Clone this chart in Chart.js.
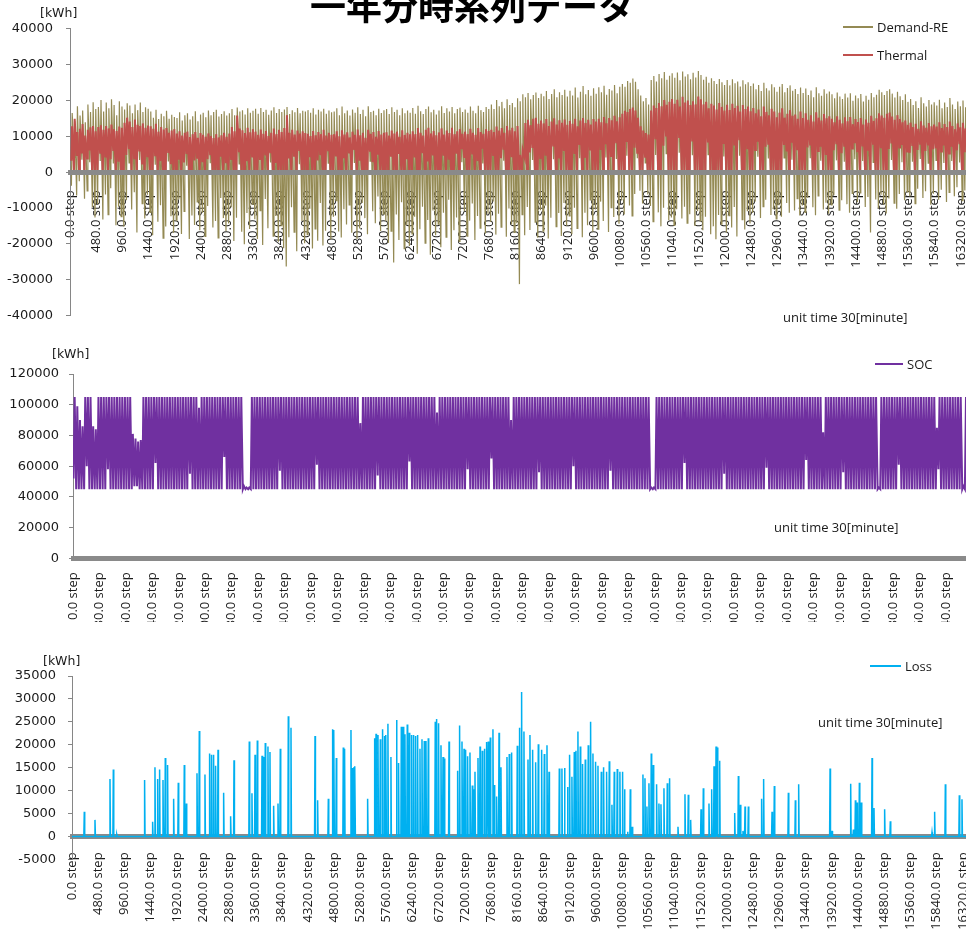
<!DOCTYPE html>
<html lang="ja">
<head>
<meta charset="utf-8">
<title>一年分時系列データ</title>
<script src="https://cdn.jsdelivr.net/npm/chart.js@4.4.1/dist/chart.umd.min.js"></script>
<style>
  html, body { margin: 0; padding: 0; background: #fff; }
  body { width: 966px; height: 930px; overflow: hidden; position: relative; color: #1a1a1a; font-family: "Open Sans", sans-serif; }
  .panel { position: absolute; left: 0; overflow: hidden; }
  .panel canvas { position: absolute; left: 0; top: 0; }
  .txt { position: absolute; white-space: nowrap; font-size: 13px; line-height: 16px; z-index: 2; }
  .unit { font-family: "DejaVu Sans", sans-serif; font-size: 12.5px; }
  .key { position: absolute; height: 2px; z-index: 2; }
  #title { position: absolute; left: 0; width: 944px; top: -14px; text-align: center; font: bold 36px/36px "Noto Sans CJK JP", sans-serif; color: #000; z-index: 2; }
</style>
</head>
<body>
<div id="title">一年分時系列データ</div>

<div class="panel" id="p1" style="top:0; width:1040px; height:330px;"><canvas id="c1" width="1040" height="330"></canvas></div>
<div class="panel" id="p2" style="top:335px; width:1050px; height:287px;"><canvas id="c2" width="1050" height="300"></canvas></div>
<div class="panel" id="p3" style="top:640px; width:1040px; height:290px;"><canvas id="c3" width="1040" height="290"></canvas></div>

<div class="txt unit" style="left:40px; top:5px;">[kWh]</div>
<div class="txt unit" style="left:52px; top:346px;">[kWh]</div>
<div class="txt unit" style="left:43px; top:653px;">[kWh]</div>

<div class="key" style="left:843px; top:26px; width:30px; background:#948A54;"></div>
<div class="txt" style="left:877px; top:19px;">Demand-RE</div>
<div class="key" style="left:843px; top:54px; width:30px; background:#C0504D;"></div>
<div class="txt" style="left:877px; top:47px;">Thermal</div>
<div class="txt" style="left:783px; top:309px;">unit time 30[minute]</div>

<div class="key" style="left:875px; top:363px; width:28px; background:#7030A0;"></div>
<div class="txt" style="left:907px; top:356px;">SOC</div>
<div class="txt" style="left:774px; top:519px;">unit time 30[minute]</div>

<div class="key" style="left:870px; top:665px; width:31px; background:#00B0F0;"></div>
<div class="txt" style="left:905px; top:658px;">Loss</div>
<div class="txt" style="left:818px; top:714px;">unit time 30[minute]</div>

<script>
// One step = 30 minutes, one day = 48 steps; values in kWh.
const STEPS_PER_DAY = 48;
const TOTAL_STEPS = 17520;
const TICK_STEP = 480;

// Daily peak and trough of (demand - renewable output)
const demandHigh = [
  16500, 14200, 18400, 15800, 17200, 13900, 18900, 16800, 19500, 17600,
  18200, 20100, 16900, 19400, 17800, 20300, 18700, 15900, 19800, 18300,
  17500, 19200, 18600, 16400, 18900, 17300, 19400, 16800, 18100, 17700,
  16900, 15200, 17400, 14800, 16300, 15600, 17100, 14900, 16000, 15400,
  15100, 16700, 14400, 15900, 16400, 14700, 15600, 17000, 14200, 16100,
  16600, 15300, 17200, 15900, 16800, 17400, 15500, 16200, 17000, 15800,
  16400, 17600, 15900, 18000, 16900, 17300, 16100, 17800, 16600, 17100,
  17700, 16300, 17900, 16800, 17400, 16000, 17200, 18100, 16500, 17600,
  16800, 17500, 18200, 16200, 17300, 16700, 17900, 16400, 17100, 16900,
  17300, 16600, 17800, 16100, 17400, 16900, 17700, 16300, 17200, 16700,
  16900, 17800, 15900, 18300, 16400, 17200, 15800, 17500, 16600, 18100,
  16200, 17400, 15600, 18400, 16800, 17100, 15900, 17700, 16500, 17300,
  17600, 16200, 18100, 16800, 17400, 15900, 17800, 16400, 17200, 16600,
  17900, 16300, 18500, 17000, 16200, 17600, 18300, 16700, 17400, 16100,
  17200, 18400, 16500, 17800, 16900, 18200, 16400, 17600, 18000, 16800,
  17500, 16600, 18300, 17100, 16400, 18500, 17300, 16800, 18200, 17600,
  18900, 17600, 20100, 18400, 19600, 17800, 20300, 18700, 19300, 18100,
  20600, 19800, 21700, 20900, 22100, 20300, 21500, 22200, 20700, 21900,
  21200, 22600, 20400, 21800, 23100, 20900, 22300, 21500, 23000, 21100,
  22700, 21400, 23600, 20800, 22400, 24000, 21700, 22900, 21300, 23400,
  21900, 23700, 22300, 24100, 21600, 23200, 22800, 24300, 22000, 23800,
  24600, 23800, 25400, 24900, 26100, 25200, 23100, 21400, 19800, 20700,
  18900, 25700, 26800, 25300, 27400, 26200, 27900, 25800, 26900, 27600,
  26300, 27800, 25600, 28100, 26700, 27300, 25900, 27700, 26400, 28200,
  27100, 25800, 26600, 24900, 26200, 25400, 24600, 26000, 25100, 24300,
  25700, 24200, 25900, 24800, 25300, 23900, 25600, 24500, 25100, 24000,
  24700, 23100, 24300, 22600, 24900, 23400, 22800, 24500, 23700, 22400,
  23800, 24600, 22300, 23500, 24200, 22700, 23200, 21800, 23600, 22100,
  23300, 21500, 22800, 20900, 23700, 22000, 21300, 23100, 21900, 22500,
  21700, 20600, 22200, 21100, 20400, 21900, 20800, 22000, 19900, 21400,
  20600, 21800, 19700, 21300, 20200, 22100, 20900, 21600, 23000, 22300,
  21500, 22600, 23100, 21900, 20800, 22400, 21200, 20100, 21700, 19600,
  20400, 18700, 19800, 17900, 20900, 19200, 18300, 20100, 18900, 19500,
  18600, 20200, 17800, 19400, 18200, 20700, 18900, 17600, 19700, 18400, 20000, 18100, 19300, 17900
];
const demandLow = [
  -3800, 4200, -6500, -2500, 3500, -7400, -5200, 2800, -9800, -12600,
  -8900, 3100, -13200, -6200, -11800, -4500, 2400, -14800, -9600, -12400,
  -15200, -7800, 2600, -10400, -5600, -16800, 3400, -8800, -12900, -6300,
  -11200, -17600, 2100, -13800, -9200, -18400, -15100, 3000, -12300, -16900,
  -13400, -7600, -17200, -10900, 1800, -18600, -12100, -14700, -8300, -16200,
  -11300, -17900, -9400, 2500, -15400, -13600, -18300, -7200, -12800, -16400,
  -14300, -9800, -19200, -12700, 2300, -16600, -20100, -11400, -15800, -8900,
  -13100, -18600, -10700, -20300, -7500, -15600, 2700, -17800, -12200, -19400,
  -14900, -21200, -26300, -18100, -9800, -16700, -22000, 2200, -13600, -19800,
  -17400, -10200, -21300, -15800, -19100, -8600, -20400, -16300, 2500, -18700,
  -12400, -7900, -16500, -18200, -10300, -14600, -9100, -16900, 2600, -18600,
  -15700, -8600, -12800, -17300, 3100, -10900, -14200, -6800, -16400, -11700,
  -13600, -19700, -16400, -25200, -11800, -18900, -8400, -21300, -14700, -20600,
  -17200, -12400, -22700, -15900, -9600, -19800, -13300, -23000, -10700, -17600,
  -14500, -20900, -11300, -18100, -7700, -21700, -16200, -12600, -19300, 2800,
  -10900, -17800, -13500, -8700, -18900, -12200, -15600, 2400, -17100, -11600,
  -13900, -8200, -17400, -11600, -15300, 3200, -18000, -10100, -14600, -16800,
  -14200, -31200, -11800, -17600, -9700, -16100, 3400, -13900, -18300, -10600,
  -16400, -9300, -18500, -12700, 3600, -15200, -11400, -17800, -8600, -14900,
  -12200, -17300, -9900, -15700, 3900, -18100, -11300, -14800, -7700, -16600,
  -10400, -15900, -8200, -13600, 4100, -16700, -9900, -12500, 3700, -14400,
  -7900, -11800, 4600, -9300, -12200, -6100, 3900, -5200, -8700, 2600,
  -6200, -9400, -13800, 4800, -11200, -15100, -9900, 5200, -13400, -12600,
  -14800, -10300, 5400, -12900, -9600, -14200, -11700, 4700, -15000, -10800,
  -13600, -16200, -12400, 4900, -17300, -15100, -18700, -11900, -14500, 4400,
  -16800, -12100, -15400, -9700, -17900, 4600, -13200, -16000, -10900, -14300,
  -11400, -8200, 4300, -12800, -9600, -7700, 3800, -11900, -10300, -13000,
  -9200, -12400, 4000, -8600, -11300, 3500, -10700, -7400, -12100, -9300,
  -11200, -7100, 3900, -9800, -12000, -6600, 3200, -10400, -8500, -11600,
  -9100, -6400, 3300, -10600, -7800, 2900, -8900, -11300, -5900, 3600,
  -8400, -5800, 3100, -9700, -6900, -16800, 2700, -7600, -10100, -6300,
  -9000, -11500, -7300, 3400, -8600, -10200, -6100, 2800, -7800, -5500,
  -6800, 2900, -8800, -4600, 3700, -7200, -5300, 2500, -9100, -6000,
  3300, -7700, -4900, 2600, -8300, -5600, 3100, -6700, -4200, 2700, -7900, -5100, 3400, -6200
];

// Daily peak and trough of thermal generation
const thermalHigh = [
  12800, 14900, 11200, 12100, 13400, 10200, 11800, 12500, 12900, 11400,
  12600, 13100, 11800, 12900, 12200, 13300, 12000, 11500, 12700, 12400,
  13800, 15200, 14100, 12600, 14700, 13200, 12900, 13600, 12400, 13000,
  12800, 12100, 13500, 11300, 12600, 11900, 12300, 11000, 11600, 12000,
  10800, 11400, 10200, 11000, 11300, 9800, 10600, 11200, 9600, 10900,
  10400, 9900, 10800, 10100, 9500, 10600, 9700, 10300, 11000, 9900,
  10800, 12600, 11400, 15800, 12200, 11700, 10900, 12400, 11100, 12000,
  11300, 10400, 11900, 10700, 11500, 10100, 11000, 12200, 10600, 11800,
  11200, 12300, 15900, 11000, 11800, 10500, 11600, 10800, 11400, 10900,
  10700, 10100, 11500, 10300, 11200, 10600, 11800, 10200, 11000, 10400,
  10600, 11400, 10000, 11700, 10500, 11100, 9700, 11300, 10400, 11900,
  10300, 11000, 9600, 11800, 10700, 11200, 9900, 11500, 10500, 11000,
  11100, 10200, 11600, 10800, 11300, 9900, 11700, 10400, 11000, 10600,
  11400, 10600, 12300, 11000, 10200, 11800, 12400, 10800, 11500, 10300,
  11100, 12200, 10500, 11600, 10900, 12400, 10600, 11400, 12000, 10700,
  11300, 10600, 12100, 11000, 10400, 12300, 11200, 10700, 12000, 11500,
  11800, 11200, 12700, 11600, 12300, 11000, 12900, 11700, 12400, 11400,
  12900, 4800, 6200, 13700, 14600, 13100, 14900, 15200, 13500, 14400,
  13600, 14800, 12900, 14100, 15000, 13300, 14500, 13800, 14700, 13200,
  14300, 13500, 14900, 12800, 14400, 15100, 13700, 14600, 13300, 14800,
  14100, 14900, 13900, 15400, 13600, 15100, 14500, 15700, 14200, 15300,
  16300, 17100, 16800, 17600, 18000, 17200, 15200, 12800, 11600, 10900,
  10500, 17200, 18600, 17900, 19300, 18400, 20100, 18800, 19600, 20400,
  19100, 20200, 18300, 21000, 19400, 20000, 18700, 19800, 18900, 21100,
  20300, 18900, 19600, 17800, 19100, 18600, 17500, 19300, 18200, 17200,
  18800, 17300, 19100, 17900, 18500, 16900, 18700, 17600, 18300, 17000,
  17900, 16400, 17500, 15600, 18300, 16800, 15900, 17700, 16900, 15300,
  16600, 17800, 15200, 16300, 17300, 15700, 16100, 14900, 16900, 15100,
  16400, 14600, 15900, 14100, 16700, 15200, 14400, 16200, 15000, 15600,
  14900, 13900, 15600, 14600, 13600, 15300, 14200, 15400, 13400, 14800,
  14000, 15100, 13300, 14700, 13800, 15700, 14300, 15000, 16400, 15800,
  15200, 16300, 16600, 15500, 14600, 15900, 14800, 13900, 14400, 13200,
  13800, 12600, 13500, 12100, 14200, 13000, 12400, 13700, 12800, 13300,
  12700, 13900, 12300, 13400, 12600, 14100, 12900, 12000, 13600, 12500, 13800, 12200, 13100, 12400
];
const thermalLow = [
  3200, 0, 4500, 0, 5200, 0, 3800, 6100, 0, 0,
  0, 5400, 0, 4100, 0, 3600, 6200, 0, 2900, 0,
  0, 4800, 6500, 0, 3900, 0, 5800, 2400, 0, 4200,
  0, 0, 4700, 0, 3100, 0, 0, 5400, 2200, 0,
  0, 3500, 0, 2700, 5100, 0, 0, 3300, 4000, 0,
  2800, 0, 3600, 5000, 0, 0, 0, 4300, 0, 2500,
  0, 3700, 0, 0, 5600, 0, 0, 3100, 0, 4400,
  0, 0, 3400, 0, 4900, 0, 5300, 0, 2600, 0,
  0, 0, 0, 3800, 0, 4600, 0, 5900, 0, 0,
  0, 4200, 0, 0, 3300, 5000, 0, 0, 6100, 0,
  0, 4400, 0, 0, 3900, 0, 5500, 0, 6200, 0,
  3200, 0, 0, 0, 5700, 2800, 0, 4900, 0, 0,
  0, 0, 4300, 0, 0, 5100, 0, 0, 3600, 0,
  0, 4100, 0, 0, 5300, 0, 3000, 0, 4700, 0,
  0, 0, 4600, 0, 3500, 0, 0, 5200, 0, 6400,
  4000, 0, 0, 5200, 0, 3100, 0, 6600, 0, 0,
  0, 4800, 0, 0, 3900, 6300, 0, 0, 4200, 0,
  0, 0, 0, 4100, 0, 5500, 6800, 0, 0, 3700,
  0, 4600, 0, 0, 7200, 0, 3800, 0, 5900, 0,
  0, 0, 5100, 0, 7600, 0, 4000, 0, 6300, 0,
  0, 0, 6200, 0, 7800, 0, 4500, 0, 8100, 0,
  0, 0, 8400, 0, 0, 6800, 5400, 0, 0, 4300,
  0, 0, 0, 9200, 0, 0, 7400, 10200, 0, 0,
  0, 0, 9800, 0, 0, 0, 0, 8600, 0, 0,
  0, 0, 0, 8300, 0, 0, 0, 0, 0, 7900,
  0, 0, 0, 7700, 0, 8900, 0, 0, 6400, 0,
  0, 6200, 8500, 0, 0, 7100, 7900, 0, 0, 0,
  0, 0, 7600, 5800, 0, 8200, 0, 6400, 0, 0,
  0, 6900, 7700, 0, 0, 5900, 7100, 0, 4800, 0,
  0, 6100, 7800, 0, 5300, 7400, 0, 0, 6600, 8100,
  5600, 0, 7200, 0, 6000, 0, 7900, 0, 0, 6700,
  0, 0, 6500, 8000, 0, 0, 6900, 7600, 0, 5800,
  5400, 7300, 0, 6200, 7900, 0, 5900, 7700, 0, 6400,
  6700, 0, 5800, 7500, 0, 5200, 7100, 0, 6100, 7800, 0, 5600, 7200, 6000
];

// Daily maximum and minimum battery state of charge
const socHigh = [
  105000, 99000, 90000, 86000, 105000, 105000, 105000, 86000, 84000, 105000,
  105000, 105000, 105000, 105000, 105000, 105000, 105000, 105000, 105000, 105000,
  105000, 105000, 81000, 78000, 76000, 77000, 105000, 105000, 105000, 105000,
  105000, 105000, 105000, 105000, 105000, 105000, 105000, 105000, 105000, 105000,
  105000, 105000, 105000, 105000, 105000, 105000, 105000, 98000, 105000, 105000,
  105000, 105000, 105000, 105000, 105000, 105000, 105000, 105000, 105000, 105000,
  105000, 105000, 105000, 105000, 47000, 46000, 46000, 105000, 105000, 105000,
  105000, 105000, 105000, 105000, 105000, 105000, 105000, 105000, 105000, 105000,
  105000, 105000, 105000, 105000, 105000, 105000, 105000, 105000, 105000, 105000,
  105000, 105000, 105000, 105000, 105000, 105000, 105000, 105000, 105000, 105000,
  105000, 105000, 105000, 105000, 105000, 105000, 105000, 105000, 88000, 105000,
  105000, 105000, 105000, 105000, 105000, 105000, 105000, 105000, 105000, 105000,
  105000, 105000, 105000, 105000, 105000, 105000, 105000, 105000, 105000, 105000,
  105000, 105000, 105000, 105000, 105000, 105000, 105000, 95000, 105000, 105000,
  105000, 105000, 105000, 105000, 105000, 105000, 105000, 105000, 105000, 105000,
  105000, 105000, 105000, 105000, 105000, 105000, 105000, 105000, 105000, 105000,
  105000, 105000, 105000, 105000, 105000, 90000, 105000, 105000, 105000, 105000,
  105000, 105000, 105000, 105000, 105000, 105000, 105000, 105000, 105000, 105000,
  105000, 105000, 105000, 105000, 105000, 105000, 105000, 105000, 105000, 105000,
  105000, 105000, 105000, 105000, 105000, 105000, 105000, 105000, 105000, 105000,
  105000, 105000, 105000, 105000, 105000, 105000, 105000, 105000, 105000, 105000,
  105000, 105000, 105000, 105000, 105000, 105000, 105000, 105000, 46000, 46000,
  105000, 105000, 105000, 105000, 105000, 105000, 105000, 105000, 105000, 105000,
  105000, 105000, 105000, 105000, 105000, 105000, 105000, 105000, 105000, 105000,
  105000, 105000, 105000, 105000, 105000, 105000, 105000, 105000, 105000, 105000,
  105000, 105000, 105000, 105000, 105000, 105000, 105000, 105000, 105000, 105000,
  105000, 105000, 105000, 105000, 105000, 105000, 105000, 105000, 105000, 105000,
  105000, 105000, 105000, 105000, 105000, 105000, 105000, 105000, 105000, 105000,
  105000, 105000, 105000, 82000, 105000, 105000, 105000, 105000, 105000, 105000,
  105000, 105000, 105000, 105000, 105000, 105000, 105000, 105000, 105000, 105000,
  105000, 105000, 105000, 105000, 46000, 105000, 105000, 105000, 105000, 105000,
  105000, 105000, 105000, 105000, 105000, 105000, 105000, 105000, 105000, 105000,
  105000, 105000, 105000, 105000, 105000, 105000, 85000, 105000, 105000, 105000,
  105000, 105000, 105000, 105000, 105000, 105000, 47000, 105000, 105000, 105000, 105000, 105000, 105000, 105000
];
const socLow = [
  52000, 45000, 45000, 45000, 45000, 60000, 45000, 45000, 45000, 45000,
  45000, 45000, 45000, 58000, 45000, 45000, 45000, 45000, 45000, 45000,
  45000, 45000, 45000, 47000, 47000, 45000, 45000, 45000, 45000, 45000,
  45000, 62000, 45000, 45000, 45000, 45000, 45000, 45000, 45000, 45000,
  45000, 45000, 45000, 45000, 55000, 45000, 45000, 45000, 45000, 45000,
  45000, 45000, 45000, 45000, 45000, 45000, 45000, 66000, 45000, 45000,
  45000, 45000, 45000, 45000, 45000, 45000, 45000, 45000, 45000, 45000,
  45000, 45000, 45000, 45000, 45000, 45000, 45000, 45000, 57000, 45000,
  45000, 45000, 45000, 45000, 45000, 45000, 45000, 45000, 45000, 45000,
  45000, 45000, 61000, 45000, 45000, 45000, 45000, 45000, 45000, 45000,
  45000, 45000, 45000, 45000, 45000, 45000, 45000, 45000, 45000, 45000,
  45000, 45000, 45000, 45000, 45000, 54000, 45000, 45000, 45000, 45000,
  45000, 45000, 45000, 45000, 45000, 45000, 45000, 63000, 45000, 45000,
  45000, 45000, 45000, 45000, 45000, 45000, 45000, 45000, 45000, 45000,
  45000, 45000, 45000, 45000, 45000, 45000, 45000, 45000, 45000, 58000,
  45000, 45000, 45000, 45000, 45000, 45000, 45000, 45000, 65000, 45000,
  45000, 45000, 45000, 45000, 45000, 45000, 45000, 45000, 45000, 45000,
  45000, 45000, 45000, 45000, 45000, 45000, 56000, 45000, 45000, 45000,
  45000, 45000, 45000, 45000, 45000, 45000, 45000, 45000, 45000, 60000,
  45000, 45000, 45000, 45000, 45000, 45000, 45000, 45000, 45000, 45000,
  45000, 45000, 45000, 57000, 45000, 45000, 45000, 45000, 45000, 45000,
  45000, 45000, 45000, 45000, 45000, 45000, 45000, 45000, 45000, 45000,
  45000, 45000, 45000, 45000, 45000, 45000, 45000, 45000, 45000, 45000,
  45000, 62000, 45000, 45000, 45000, 45000, 45000, 45000, 45000, 45000,
  45000, 45000, 45000, 45000, 45000, 45000, 55000, 45000, 45000, 45000,
  45000, 45000, 45000, 45000, 45000, 45000, 45000, 45000, 45000, 45000,
  45000, 45000, 59000, 45000, 45000, 45000, 45000, 45000, 45000, 45000,
  45000, 45000, 45000, 45000, 45000, 45000, 45000, 64000, 45000, 45000,
  45000, 45000, 45000, 45000, 45000, 45000, 45000, 45000, 45000, 45000,
  45000, 56000, 45000, 45000, 45000, 45000, 45000, 45000, 45000, 45000,
  45000, 45000, 45000, 45000, 45000, 45000, 45000, 45000, 45000, 45000,
  45000, 45000, 61000, 45000, 45000, 45000, 45000, 45000, 45000, 45000,
  45000, 45000, 45000, 45000, 45000, 45000, 45000, 58000, 45000, 45000,
  45000, 45000, 45000, 45000, 45000, 45000, 45000, 45000, 45000, 45000, 45000, 60000, 45000, 45000
];

// Curtailment events: step index and lost energy
const lossSteps = [
  225, 421, 696, 757, 821, 1330, 1477, 1520, 1569, 1605, 1667, 1709, 1751, 1862, 1947, 2057, 2094,
  2290, 2332, 2436, 2521, 2557, 2594, 2631, 2675, 2778, 2906, 2968, 3248, 3297, 3353, 3395, 3481,
  3505, 3541, 3590, 3627, 3694, 3774, 3816, 3963, 4012, 4452, 4500, 4696, 4775, 4799, 4842, 4970,
  4994, 5111, 5141, 5166, 5184, 5416, 5545, 5570, 5606, 5648, 5690, 5727, 5752, 5788, 5843, 5946,
  5983, 6033, 6069, 6100, 6142, 6179, 6222, 6258, 6295, 6332, 6375, 6412, 6454, 6485, 6527, 6655,
  6680, 6716, 6760, 6797, 6821, 6907, 7065, 7101, 7145, 7182, 7211, 7248, 7291, 7334, 7352, 7383,
  7438, 7475, 7517, 7559, 7596, 7627, 7663, 7712, 7736, 7779, 7823, 7859, 7969, 8011, 8054, 8158,
  8200, 8237, 8280, 8354, 8390, 8439, 8494, 8543, 8604, 8653, 8702, 8739, 8928, 8976, 9024, 9079,
  9116, 9159, 9202, 9233, 9269, 9312, 9354, 9403, 9458, 9501, 9544, 9592, 9636, 9697, 9739, 9794,
  9843, 9892, 9934, 9989, 10038, 10087, 10123, 10178, 10228, 10264, 10460, 10497, 10533, 10570,
  10612, 10649, 10710, 10753, 10790, 10845, 10906, 10948, 11102, 11230, 11291, 11334, 11524, 11566,
  11670, 11719, 11762, 11799, 11823, 11866, 12141, 12208, 12245, 12293, 12330, 12391, 12634, 12671,
  12825, 12867, 13124, 13252, 13313, 13888, 13925, 14266, 14315, 14352, 14382, 14425, 14461, 14657,
  14693, 14888, 14992, 15756, 15804, 16000, 16256, 16305
];
const lossValues = [
  5400, 3600, 12500, 14600, 400, 12300, 3200, 15100, 12500, 14600, 12300, 17100, 15600, 8200, 11700, 15600, 7200,
  13800, 23000, 13500, 18100, 17800, 17800, 15400, 18900, 9500, 4400, 16600, 20700, 9400, 17800, 20900, 17600,
  17300, 20400, 19600, 18400, 6700, 7200, 19100, 26200, 23700, 21900, 7900, 8200, 23400, 23200, 17100, 19400,
  19100, 23200, 14900, 15100, 15300, 8200, 21400, 22400, 22100, 21200, 23400, 21900, 22100, 24600, 17300, 25400,
  16000, 23900, 23900, 22300, 24400, 22600, 22100, 22100, 21900, 22100, 19100, 21200, 20800, 20800, 21400, 25000,
  25600, 24700, 19900, 17300, 17000, 20700, 14300, 24200, 20700, 19100, 18900, 17500, 18300, 11100, 10300, 14100,
  17100, 19600, 18700, 19100, 20600, 20700, 21600, 23400, 11200, 8700, 22600, 15100, 17300, 18000, 18300, 19800,
  23700, 31500, 22900, 16800, 22100, 18900, 16200, 20100, 18900, 18000, 19900, 14100, 14800, 14800, 14900, 10800,
  17800, 13000, 18400, 18700, 22900, 19600, 15800, 16800, 19900, 25000, 18100, 16300, 15400, 14100, 15100, 14100,
  16400, 6900, 14100, 14700, 14100, 14100, 10300, 1000, 10300, 2100, 13500, 12700, 6500, 11600,
  18100, 15600, 11400, 7200, 7000, 10500, 11600, 12700, 2100, 9200, 9100, 3600, 5900, 10500,
  7200, 10300, 15300, 19600, 19400, 16500, 5100, 13200, 6900, 1200, 6500, 6500, 8200, 12500,
  5400, 11000, 9500, 7900, 11400, 14800, 1200, 11500, 1500, 7900, 7400, 11700, 7400, 17100,
  6200, 5900, 3300, 900, 5400, 11400, 9000, 8100
];

const xLabels = (v) => v.toFixed(1) + ' step';
const yLabels = (v) => String(v);

// Alternating trough/peak points, one pair per day
function dailySwing(lows, highs, lowAt, highAt) {
  const pts = [];
  for (let d = 0; d < lows.length; d++) {
    pts.push({ x: d * STEPS_PER_DAY + lowAt, y: lows[d] });
    pts.push({ x: d * STEPS_PER_DAY + highAt, y: highs[d] });
  }
  return pts;
}

// Zero baseline with a narrow spike at every loss event
function spikes(steps, values) {
  const pts = [{ x: 0, y: 0 }];
  steps.forEach((s, i) => {
    pts.push({ x: s - 8, y: 0 }, { x: s, y: values[i] }, { x: s + 8, y: 0 });
  });
  pts.push({ x: TOTAL_STEPS, y: 0 });
  return pts;
}

Chart.defaults.animation = false;
Chart.defaults.color = '#1a1a1a';
Chart.defaults.font.family = '"DejaVu Sans", sans-serif';
Chart.defaults.font.size = 13;

function panel(canvasId, p) {
  return new Chart(document.getElementById(canvasId), {
    type: 'line',
    data: { datasets: p.datasets },
    options: {
      responsive: false,
      devicePixelRatio: 1,
      events: [],
      parsing: false,
      normalized: true,
      layout: { padding: p.padding },
      plugins: { legend: { display: false }, tooltip: { enabled: false }, title: { display: false } },
      elements: { point: { radius: 0 }, line: { tension: 0 } },
      scales: {
        x: {
          type: 'linear',
          min: 0,
          max: TOTAL_STEPS,
          position: { y: 0 },
          ticks: {
            stepSize: TICK_STEP,
            autoSkip: false,
            minRotation: 90,
            maxRotation: 90,
            padding: p.xPad,
            color: '#1a1a1a',
            font: { family: '"Open Sans", sans-serif', size: 13 },
            callback: xLabels
          },
          grid: { display: false, drawTicks: false },
          border: { display: true, color: '#8a8a8a', width: 5, z: p.axisZ },
          afterFit(s) { s.paddingLeft = 0; s.paddingRight = 0; s.paddingTop = 0; s.paddingBottom = 0; }
        },
        y: {
          type: 'linear',
          min: p.yMin,
          max: p.yMax,
          ticks: { stepSize: p.yStep, padding: p.yPad, color: '#1a1a1a', font: { size: 13 }, callback: yLabels },
          grid: { display: true, drawOnChartArea: false, drawTicks: true, tickLength: 4, color: '#868686', lineWidth: 1 },
          border: { display: true, color: '#868686', width: 1 },
          afterFit(s) { s.width = p.axisX; s.paddingTop = 0; s.paddingBottom = 0; s.paddingLeft = 0; s.paddingRight = 0; }
        }
      }
    }
  });
}

// Demand minus renewables, with thermal output drawn over it
panel('c1', {
  axisX: 70, yMin: -40000, yMax: 40000, yStep: 10000, yPad: 13, xPad: 18, axisZ: 1,
  padding: { left: 0, top: 28.7, right: 1040 - 1026.3, bottom: 330 - 315.7 },
  datasets: [
    { label: 'Thermal', data: dailySwing(thermalLow, thermalHigh, 24, 38), borderColor: '#C0504D', borderWidth: 2, order: 0 },
    { label: 'Demand-RE', data: dailySwing(demandLow, demandHigh, 26, 40), borderColor: '#948A54', borderWidth: 1.2, order: 1 }
  ]
});

// Battery state of charge
panel('c2', {
  axisX: 73, yMin: 0, yMax: 120000, yStep: 20000, yPad: 10, xPad: 14, axisZ: 1,
  padding: { left: 0, top: 374 - 335, right: 1050 - 1038.4, bottom: 335 + 300 - 558.3 },
  datasets: [
    { label: 'SOC', data: dailySwing(socLow, socHigh, 10, 30), borderColor: '#7030A0', borderWidth: 2 }
  ]
});

// Curtailed energy
panel('c3', {
  axisX: 72, yMin: -5000, yMax: 35000, yStep: 5000, yPad: 12, xPad: 16, axisZ: 0,
  padding: { left: 0, top: 676 - 640, right: 1040 - 1028.3, bottom: 930 - 859.3 },
  datasets: [
    { label: 'Loss', data: spikes(lossSteps, lossValues), borderColor: '#00B0F0', borderWidth: 1.5 }
  ]
});
</script>
</body>
</html>
